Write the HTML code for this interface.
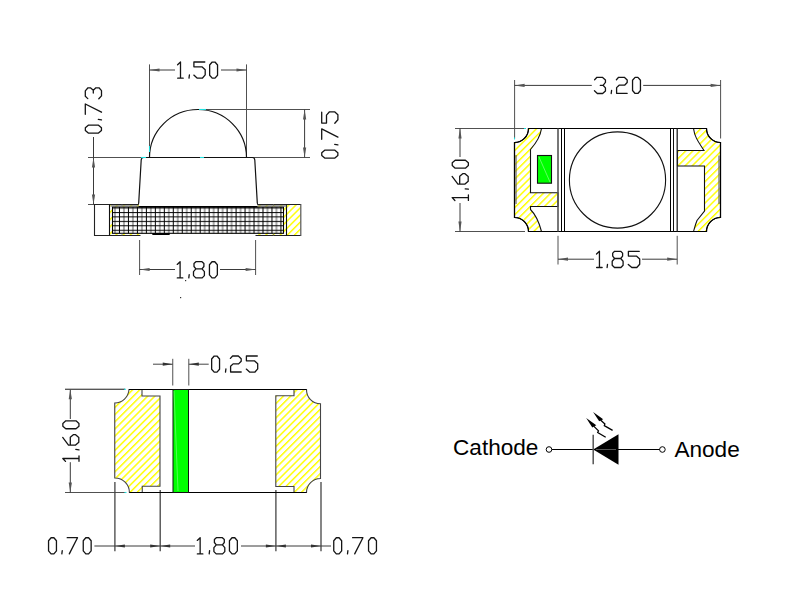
<!DOCTYPE html>
<html><head><meta charset="utf-8"><style>
html,body{margin:0;padding:0;background:#fff;width:800px;height:600px;overflow:hidden}
svg{display:block}
</style></head><body>
<svg width="800" height="600" viewBox="0 0 800 600">
<defs>
<pattern id="hatch" patternUnits="userSpaceOnUse" width="5.05" height="5.05" patternTransform="rotate(-45)">
<rect width="5.05" height="5.05" fill="#fff"/><rect y="0" width="5.05" height="1.45" fill="#ffff00"/></pattern>
<pattern id="hatch2" patternUnits="userSpaceOnUse" width="5.05" height="5.05" patternTransform="rotate(-45)">
<rect width="5.05" height="5.05" fill="#fff"/><rect y="0" width="5.05" height="1.45" fill="#ffff00"/></pattern>
<pattern id="mesh" patternUnits="userSpaceOnUse" x="110.0" y="207.5" width="8.97" height="4.45">
<rect width="8.97" height="4.45" fill="#fff"/><rect width="1.0" height="4.45" fill="#000"/><rect x="4.48" width="1.0" height="4.45" fill="#555"/><rect width="8.97" height="1.0" fill="#000"/></pattern>
</defs>
<rect width="800" height="600" fill="#fff"/>
<line x1="149.5" y1="64.4" x2="149.5" y2="157.5" stroke="#505050" stroke-width="1"/>
<line x1="246.5" y1="64.4" x2="246.5" y2="157.5" stroke="#505050" stroke-width="1"/>
<line x1="149.5" y1="70" x2="175" y2="70" stroke="#3a3a3a" stroke-width="1"/>
<line x1="221" y1="70" x2="246.5" y2="70" stroke="#3a3a3a" stroke-width="1"/>
<polygon points="149.5,70 159.5,68.4 159.5,71.6" fill="#555"/>
<polygon points="246.5,70 236.5,68.4 236.5,71.6" fill="#555"/>
<g fill="none" stroke="#141414" stroke-width="1.3" stroke-linejoin="round" stroke-linecap="round"><path transform="translate(177.1,61.4)" d="M0.5,3.3 L3.4,0.6 V16.8 M0.6,16.8 H6.1"/><path transform="translate(188.4,61.4)" d="M1.0,13.6 L0.6,16.8"/><path transform="translate(193.3,61.4)" d="M11.5,0.6 H0.6 V5.4 H8.6 L11.9,8.4 V13.5 L9,16.8 H4 L0.5,13.7"/><path transform="translate(209,61.4)" d="M3.2,0.65 H6.0 L8.55,3.6 V13.8 L6.0,16.75 H3.2 L0.65,13.8 V3.6 Z"/></g>
<line x1="88" y1="157.5" x2="143" y2="157.5" stroke="#505050" stroke-width="1"/>
<line x1="88" y1="204.5" x2="138" y2="204.5" stroke="#505050" stroke-width="1"/>
<line x1="93.5" y1="137" x2="93.5" y2="204.5" stroke="#3a3a3a" stroke-width="1"/>
<polygon points="93.5,157.5 91.9,167.5 95.1,167.5" fill="#555"/>
<polygon points="93.5,204.5 91.9,194.5 95.1,194.5" fill="#555"/>
<g fill="none" stroke="#141414" stroke-width="1.3" stroke-linejoin="round" stroke-linecap="round" transform="translate(84.7,133.7) rotate(-90)"><path transform="translate(0,0)" d="M3.2,0.65 H6.0 L8.55,3.6 V13.8 L6.0,16.75 H3.2 L0.65,13.8 V3.6 Z"/><path transform="translate(13.3,0)" d="M1.0,13.6 L0.6,16.8"/><path transform="translate(19.1,0)" d="M0.3,0.6 H10.6 L2.4,16.8"/><path transform="translate(34.5,0)" d="M0.55,3.1 L2.9,0.6 H8.3 L11.4,3.3 V5.7 L9,8.6 H6.2 M9,8.6 L11.4,11.2 V14.3 L8.6,16.8 H3.3 L0.4,14.1"/></g>
<line x1="198" y1="109.5" x2="310" y2="109.5" stroke="#505050" stroke-width="1"/>
<line x1="246" y1="157.5" x2="310" y2="157.5" stroke="#505050" stroke-width="1"/>
<line x1="304.6" y1="109.5" x2="304.6" y2="157.5" stroke="#3a3a3a" stroke-width="1"/>
<polygon points="304.6,109.5 303.0,119.5 306.20000000000005,119.5" fill="#555"/>
<polygon points="304.6,157.5 303.0,147.5 306.20000000000005,147.5" fill="#555"/>
<g fill="none" stroke="#141414" stroke-width="1.3" stroke-linejoin="round" stroke-linecap="round" transform="translate(321.1,158.75) rotate(-90)"><path transform="translate(0,0)" d="M3.2,0.65 H6.0 L8.55,3.6 V13.8 L6.0,16.75 H3.2 L0.65,13.8 V3.6 Z"/><path transform="translate(13.3,0)" d="M1.0,13.6 L0.6,16.8"/><path transform="translate(19.2,0)" d="M0.3,0.6 H10.6 L2.4,16.8"/><path transform="translate(35.05,0)" d="M11.5,0.6 H0.6 V5.4 H8.6 L11.9,8.4 V13.5 L9,16.8 H4 L0.5,13.7"/></g>
<line x1="139.6" y1="240" x2="139.6" y2="275" stroke="#505050" stroke-width="1"/>
<line x1="255.6" y1="240" x2="255.6" y2="275" stroke="#505050" stroke-width="1"/>
<line x1="139.6" y1="269.5" x2="175" y2="269.5" stroke="#3a3a3a" stroke-width="1"/>
<line x1="220" y1="269.5" x2="255.6" y2="269.5" stroke="#3a3a3a" stroke-width="1"/>
<polygon points="139.6,269.5 149.6,267.9 149.6,271.1" fill="#555"/>
<polygon points="255.6,269.5 245.6,267.9 245.6,271.1" fill="#555"/>
<g fill="none" stroke="#141414" stroke-width="1.3" stroke-linejoin="round" stroke-linecap="round"><path transform="translate(176.7,261.1)" d="M0.5,3.3 L3.4,0.6 V16.8 M0.6,16.8 H6.1"/><path transform="translate(188.2,261.1)" d="M1.0,13.6 L0.6,16.8"/><path transform="translate(192.9,261.1)" d="M3,0.6 H9.1 L11,2.4 V5.4 L9.1,7.8 H3 L1.1,5.4 V2.4 Z M3,7.8 L0.6,10.5 V14.5 L2.9,16.8 H9.3 L11.5,14.5 V10.5 L9.1,7.8"/><path transform="translate(208.8,261.1)" d="M3.2,0.65 H6.0 L8.55,3.6 V13.8 L6.0,16.75 H3.2 L0.65,13.8 V3.6 Z"/></g>
<path fill="none" stroke="#111" stroke-width="1.2" d="M149.5,157.5 A48.5,48 0 0 1 246.5,157.5"/>
<path fill="none" stroke="#111" stroke-width="1.2" d="M138.5,206.5 L141.2,160 Q141.4,157.5 143.5,157.5 L252.5,157.5 Q254.6,157.5 254.8,160 L257.5,206.5"/>
<rect x="94.5" y="204.5" width="206.3" height="31" fill="#fff"/>
<rect x="110" y="204.5" width="190.5" height="31" fill="url(#hatch)"/>
<rect x="139" y="203.5" width="118" height="3" fill="#fff"/>
<rect x="140.5" y="233.5" width="115" height="3" fill="#fff"/>
<rect x="112.5" y="207" width="171" height="26.3" fill="url(#mesh)"/>
<rect x="112.5" y="207" width="171" height="26.3" fill="none" stroke="#000" stroke-width="1.1"/>
<line x1="94.5" y1="204.5" x2="138.8" y2="204.5" stroke="#222" stroke-width="1.1"/>
<line x1="257.2" y1="204.5" x2="301" y2="204.5" stroke="#222" stroke-width="1.1"/>
<line x1="94.5" y1="235.5" x2="140.5" y2="235.5" stroke="#222" stroke-width="1.1"/>
<line x1="255.5" y1="235.5" x2="301" y2="235.5" stroke="#222" stroke-width="1.1"/>
<line x1="94.5" y1="204" x2="94.5" y2="236" stroke="#222" stroke-width="1.1"/>
<line x1="300.8" y1="204" x2="300.8" y2="236" stroke="#555" stroke-width="1.2"/>
<line x1="109.5" y1="204.5" x2="109.5" y2="235.5" stroke="#111" stroke-width="1.1"/>
<line x1="286.5" y1="204.5" x2="286.5" y2="235.5" stroke="#111" stroke-width="1.1"/>
<line x1="138.5" y1="206.7" x2="257.5" y2="206.7" stroke="#000" stroke-width="1.5"/>
<line x1="122" y1="204.5" x2="122" y2="207" stroke="#777" stroke-width="0.8"/>
<line x1="273.5" y1="204.5" x2="273.5" y2="207" stroke="#777" stroke-width="0.8"/>
<line x1="122" y1="233.5" x2="122" y2="235.5" stroke="#777" stroke-width="0.8"/>
<line x1="273.5" y1="233.5" x2="273.5" y2="235.5" stroke="#777" stroke-width="0.8"/>
<rect x="110.5" y="205" width="28" height="1.8" fill="#777" opacity="0.7"/>
<rect x="257.5" y="205" width="29" height="1.8" fill="#777" opacity="0.7"/>
<line x1="153" y1="234" x2="169" y2="234" stroke="#000" stroke-width="1.8" stroke-linecap="round"/>
<rect x="185" y="280" width="1.2" height="1.2" fill="#333"/>
<rect x="180" y="297" width="1.2" height="1.2" fill="#333"/>
<line x1="514.6" y1="80" x2="514.6" y2="138.5" stroke="#505050" stroke-width="1"/>
<line x1="720.6" y1="80" x2="720.6" y2="138.5" stroke="#505050" stroke-width="1"/>
<line x1="514.6" y1="85.4" x2="591.8" y2="85.4" stroke="#3a3a3a" stroke-width="1"/>
<line x1="643.2" y1="85.4" x2="720.6" y2="85.4" stroke="#3a3a3a" stroke-width="1"/>
<polygon points="514.6,85.4 524.6,83.80000000000001 524.6,87.0" fill="#555"/>
<polygon points="720.6,85.4 710.6,83.80000000000001 710.6,87.0" fill="#555"/>
<g fill="none" stroke="#141414" stroke-width="1.3" stroke-linejoin="round" stroke-linecap="round"><path transform="translate(594.05,76.7)" d="M0.55,3.1 L2.9,0.6 H8.3 L11.4,3.3 V5.7 L9,8.6 H6.2 M9,8.6 L11.4,11.2 V14.3 L8.6,16.8 H3.3 L0.4,14.1"/><path transform="translate(610.6,76.7)" d="M1.0,13.6 L0.6,16.8"/><path transform="translate(616,76.7)" d="M0.4,3.0 L2.6,0.6 H8.3 L11.2,3.3 V5.8 L8.6,8.5 H3.1 L0.6,10.9 V16.6 H11.2"/><path transform="translate(631.9,76.7)" d="M3.2,0.65 H6.0 L8.55,3.6 V13.8 L6.0,16.75 H3.2 L0.65,13.8 V3.6 Z"/></g>
<line x1="455" y1="128.5" x2="525" y2="128.5" stroke="#505050" stroke-width="1"/>
<line x1="455" y1="231.5" x2="525" y2="231.5" stroke="#505050" stroke-width="1"/>
<line x1="460" y1="128.5" x2="460" y2="157" stroke="#3a3a3a" stroke-width="1"/>
<line x1="460" y1="203" x2="460" y2="231.5" stroke="#3a3a3a" stroke-width="1"/>
<polygon points="460,128.5 458.4,138.5 461.6,138.5" fill="#555"/>
<polygon points="460,231.5 458.4,221.5 461.6,221.5" fill="#555"/>
<g fill="none" stroke="#141414" stroke-width="1.3" stroke-linejoin="round" stroke-linecap="round" transform="translate(451.6,201) rotate(-90)"><path transform="translate(0,0)" d="M0.5,3.3 L3.4,0.6 V16.8 M0.6,16.8 H6.1"/><path transform="translate(11.2,0)" d="M1.0,13.6 L0.6,16.8"/><path transform="translate(16.3,0)" d="M8.3,0.5 L0.6,6.3 V13.4 L3.5,16.6 H8.2 L11,13.4 V11.1 L8.5,8.1 H0.6"/><path transform="translate(32.2,0)" d="M3.2,0.65 H6.0 L8.55,3.6 V13.8 L6.0,16.75 H3.2 L0.65,13.8 V3.6 Z"/></g>
<line x1="558" y1="235.8" x2="558" y2="264.5" stroke="#505050" stroke-width="1"/>
<line x1="677.2" y1="235.8" x2="677.2" y2="264.5" stroke="#505050" stroke-width="1"/>
<line x1="558" y1="259.2" x2="594" y2="259.2" stroke="#3a3a3a" stroke-width="1"/>
<line x1="642" y1="259.2" x2="677.2" y2="259.2" stroke="#3a3a3a" stroke-width="1"/>
<polygon points="558,259.2 568,257.59999999999997 568,260.8" fill="#555"/>
<polygon points="677.2,259.2 667.2,257.59999999999997 667.2,260.8" fill="#555"/>
<g fill="none" stroke="#141414" stroke-width="1.3" stroke-linejoin="round" stroke-linecap="round"><path transform="translate(596.05,250.7)" d="M0.5,3.3 L3.4,0.6 V16.8 M0.6,16.8 H6.1"/><path transform="translate(606.5,250.7)" d="M1.0,13.6 L0.6,16.8"/><path transform="translate(611.6,250.7)" d="M3,0.6 H9.1 L11,2.4 V5.4 L9.1,7.8 H3 L1.1,5.4 V2.4 Z M3,7.8 L0.6,10.5 V14.5 L2.9,16.8 H9.3 L11.5,14.5 V10.5 L9.1,7.8"/><path transform="translate(627.8,250.7)" d="M11.5,0.6 H0.6 V5.4 H8.6 L11.9,8.4 V13.5 L9,16.8 H4 L0.5,13.7"/></g>
<path d="M528.5,128.5 L541.5,128.5 C540.5,136 537,142 530.5,149.5 L530.5,192.8 L558,192.8 L558,206.5 L530.5,206.5 L530.5,209.5 C534,213 538,218 541.5,231.5 L528.5,231.5 A14,14 0 0 0 514.5,217.5 L514.5,142.5 A14,14 0 0 0 528.5,128.5 Z" fill="url(#hatch)" stroke="#111" stroke-width="1.1"/>
<path d="M706.5,128.5 L693.5,128.5 C694.5,136 697,140 704,150.5 L677.5,150.5 L677.5,166 L704.5,166 L704.5,211 L697,220.5 C695.5,224 694.5,228 693.5,231.5 L706.5,231.5 A14,14 0 0 1 720.5,217.5 L720.5,142.5 A14,14 0 0 1 706.5,128.5 Z" fill="url(#hatch)" stroke="#111" stroke-width="1.1"/>
<path d="M528.5,128.5 L706.5,128.5 A14,14 0 0 0 720.5,142.5 L720.5,217.5 A14,14 0 0 0 706.5,231.5 L528.5,231.5 A14,14 0 0 0 514.5,217.5 L514.5,142.5 A14,14 0 0 0 528.5,128.5 Z" fill="none" stroke="#000" stroke-width="1.2"/>
<line x1="516" y1="155" x2="516" y2="204" stroke="#666" stroke-width="1.2"/>
<line x1="719" y1="155.5" x2="719" y2="204" stroke="#666" stroke-width="1.2"/>
<rect x="537.5" y="155.5" width="14" height="27.7" fill="#00ff00" stroke="#111" stroke-width="1.1"/>
<line x1="539" y1="157" x2="550" y2="182" stroke="#8f8" stroke-width="0.7"/>
<line x1="558" y1="128.5" x2="558" y2="231.5" stroke="#555" stroke-width="1.6"/>
<line x1="561.5" y1="128.5" x2="561.5" y2="231.5" stroke="#000" stroke-width="1"/>
<line x1="564.5" y1="128.5" x2="564.5" y2="231.5" stroke="#000" stroke-width="1"/>
<line x1="670.5" y1="128.5" x2="670.5" y2="231.5" stroke="#000" stroke-width="1"/>
<line x1="673.5" y1="128.5" x2="673.5" y2="231.5" stroke="#111" stroke-width="1"/>
<line x1="677.2" y1="128.5" x2="677.2" y2="231.5" stroke="#222" stroke-width="1.3"/>
<circle cx="617.5" cy="180" r="48.1" fill="none" stroke="#111" stroke-width="1.1"/>
<line x1="172.75" y1="358.8" x2="172.75" y2="385.5" stroke="#505050" stroke-width="1"/>
<line x1="188.8" y1="358.8" x2="188.8" y2="385.5" stroke="#505050" stroke-width="1"/>
<line x1="153" y1="364.2" x2="172.75" y2="364.2" stroke="#444" stroke-width="1"/>
<line x1="188.8" y1="364.2" x2="208.7" y2="364.2" stroke="#444" stroke-width="1"/>
<polygon points="172.75,364.2 162.75,362.59999999999997 162.75,365.8" fill="#333"/>
<polygon points="188.8,364.2 198.8,362.59999999999997 198.8,365.8" fill="#333"/>
<g fill="none" stroke="#141414" stroke-width="1.3" stroke-linejoin="round" stroke-linecap="round"><path transform="translate(211,355.4)" d="M3.2,0.65 H6.0 L8.55,3.6 V13.8 L6.0,16.75 H3.2 L0.65,13.8 V3.6 Z"/><path transform="translate(224.9,355.4)" d="M1.0,13.6 L0.6,16.8"/><path transform="translate(230,355.4)" d="M0.4,3.0 L2.6,0.6 H8.3 L11.2,3.3 V5.8 L8.6,8.5 H3.1 L0.6,10.9 V16.6 H11.2"/><path transform="translate(245.8,355.4)" d="M11.5,0.6 H0.6 V5.4 H8.6 L11.9,8.4 V13.5 L9,16.8 H4 L0.5,13.7"/></g>
<line x1="65" y1="389.3" x2="125" y2="389.3" stroke="#505050" stroke-width="1"/>
<line x1="65" y1="492.5" x2="125.5" y2="492.5" stroke="#505050" stroke-width="1"/>
<line x1="70.3" y1="389.3" x2="70.3" y2="419" stroke="#3a3a3a" stroke-width="1"/>
<line x1="70.3" y1="462.2" x2="70.3" y2="492.5" stroke="#3a3a3a" stroke-width="1"/>
<polygon points="70.3,389.3 68.7,399.3 71.89999999999999,399.3" fill="#555"/>
<polygon points="70.3,492.5 68.7,482.5 71.89999999999999,482.5" fill="#555"/>
<g fill="none" stroke="#141414" stroke-width="1.3" stroke-linejoin="round" stroke-linecap="round" transform="translate(62.2,461.9) rotate(-90)"><path transform="translate(0,0)" d="M0.5,3.3 L3.4,0.6 V16.8 M0.6,16.8 H6.1"/><path transform="translate(11.5,0)" d="M1.0,13.6 L0.6,16.8"/><path transform="translate(16.2,0)" d="M8.3,0.5 L0.6,6.3 V13.4 L3.5,16.6 H8.2 L11,13.4 V11.1 L8.5,8.1 H0.6"/><path transform="translate(32.5,0)" d="M3.2,0.65 H6.0 L8.55,3.6 V13.8 L6.0,16.75 H3.2 L0.65,13.8 V3.6 Z"/></g>
<line x1="114.9" y1="481.9" x2="114.9" y2="551.2" stroke="#444" stroke-width="1.3"/>
<line x1="160.2" y1="490" x2="160.2" y2="551.2" stroke="#444" stroke-width="1.3"/>
<line x1="275.9" y1="490" x2="275.9" y2="551.2" stroke="#444" stroke-width="1.3"/>
<line x1="321" y1="482" x2="321" y2="551.2" stroke="#444" stroke-width="1.3"/>
<line x1="94.4" y1="546" x2="195" y2="546" stroke="#3a3a3a" stroke-width="1"/>
<line x1="241" y1="546" x2="331" y2="546" stroke="#3a3a3a" stroke-width="1"/>
<polygon points="114.9,546 124.9,544.4 124.9,547.6" fill="#333"/>
<polygon points="160.2,546 150.2,544.4 150.2,547.6" fill="#333"/>
<polygon points="160.2,546 170.2,544.4 170.2,547.6" fill="#333"/>
<polygon points="275.9,546 265.9,544.4 265.9,547.6" fill="#333"/>
<polygon points="275.9,546 285.9,544.4 285.9,547.6" fill="#333"/>
<polygon points="321,546 311,544.4 311,547.6" fill="#333"/>
<g fill="none" stroke="#141414" stroke-width="1.3" stroke-linejoin="round" stroke-linecap="round"><path transform="translate(47.9,537.1)" d="M3.2,0.65 H6.0 L8.55,3.6 V13.8 L6.0,16.75 H3.2 L0.65,13.8 V3.6 Z"/><path transform="translate(61.25,537.1)" d="M1.0,13.6 L0.6,16.8"/><path transform="translate(66.9,537.1)" d="M0.3,0.6 H10.6 L2.4,16.8"/><path transform="translate(82.6,537.1)" d="M3.2,0.65 H6.0 L8.55,3.6 V13.8 L6.0,16.75 H3.2 L0.65,13.8 V3.6 Z"/></g>
<g fill="none" stroke="#141414" stroke-width="1.3" stroke-linejoin="round" stroke-linecap="round"><path transform="translate(196.75,537.1)" d="M0.5,3.3 L3.4,0.6 V16.8 M0.6,16.8 H6.1"/><path transform="translate(208.6,537.1)" d="M1.0,13.6 L0.6,16.8"/><path transform="translate(213.3,537.1)" d="M3,0.6 H9.1 L11,2.4 V5.4 L9.1,7.8 H3 L1.1,5.4 V2.4 Z M3,7.8 L0.6,10.5 V14.5 L2.9,16.8 H9.3 L11.5,14.5 V10.5 L9.1,7.8"/><path transform="translate(228.8,537.1)" d="M3.2,0.65 H6.0 L8.55,3.6 V13.8 L6.0,16.75 H3.2 L0.65,13.8 V3.6 Z"/></g>
<g fill="none" stroke="#141414" stroke-width="1.3" stroke-linejoin="round" stroke-linecap="round"><path transform="translate(333.1,537.1)" d="M3.2,0.65 H6.0 L8.55,3.6 V13.8 L6.0,16.75 H3.2 L0.65,13.8 V3.6 Z"/><path transform="translate(346.9,537.1)" d="M1.0,13.6 L0.6,16.8"/><path transform="translate(352.3,537.1)" d="M0.3,0.6 H10.6 L2.4,16.8"/><path transform="translate(367.9,537.1)" d="M3.2,0.65 H6.0 L8.55,3.6 V13.8 L6.0,16.75 H3.2 L0.65,13.8 V3.6 Z"/></g>
<path d="M129,389.5 L142,389.5 L142,396 L160,396 L160,486.25 L142.25,486.25 L142.25,492.5 L129.4,492.5 A14.5,14.5 0 0 0 114.75,478 L114.75,403 A14.5,14.5 0 0 0 129,389.5 Z" fill="url(#hatch2)" stroke="#444" stroke-width="1.1"/>
<path d="M306.5,389.5 L294,389.5 L294,395.8 L275.8,395.8 L275.8,486.5 L294,486.5 L294,492.5 L306.5,492.5 A14,14 0 0 1 320.5,478.5 L320.5,403.8 A14,14 0 0 1 306.5,389.5 Z" fill="url(#hatch2)" stroke="#444" stroke-width="1.1"/>
<line x1="129" y1="389.5" x2="306.5" y2="389.5" stroke="#000" stroke-width="1.2"/>
<line x1="129.4" y1="492.5" x2="306.5" y2="492.5" stroke="#000" stroke-width="1.2"/>
<line x1="65" y1="389.3" x2="125" y2="389.3" stroke="#505050" stroke-width="1"/>
<rect x="173" y="389.5" width="15.5" height="103" fill="#00ff00" stroke="#111" stroke-width="1"/>
<line x1="174" y1="391" x2="178" y2="491" stroke="#8f8" stroke-width="0.6"/>
<text x="453" y="455" font-family="Liberation Sans, sans-serif" font-size="22.6" fill="#000">Cathode</text>
<text x="674.4" y="457" font-family="Liberation Sans, sans-serif" font-size="22.6" fill="#000">Anode</text>
<circle cx="549" cy="449.5" r="2.8" fill="#fff" stroke="#000" stroke-width="1"/>
<circle cx="662.4" cy="449.5" r="2.8" fill="#fff" stroke="#000" stroke-width="1"/>
<line x1="551.8" y1="449.5" x2="659.6" y2="449.5" stroke="#000" stroke-width="1.1"/>
<polygon points="593.2,449.5 618.5,434.3 618.5,464.7" fill="#000"/>
<line x1="596" y1="449.5" x2="616" y2="449.5" stroke="#555" stroke-width="1"/>
<line x1="593.2" y1="434.8" x2="593.2" y2="464.2" stroke="#555" stroke-width="1.5"/>
<g stroke="#000" stroke-width="1.25" fill="none"><path d="M593.7,426.1 L598.5,430.9 L597.7,432.5 L605.7,437.3"/><path d="M600.5,420 L604.9,424 L604.3,425.6 L612.6,430.4"/></g>
<polygon points="586.2,418.1 596.3,425.3 592.3,427.4" fill="#000"/>
<polygon points="593.1,412 603.2,419.2 599.2,421.3" fill="#000"/>
<line x1="149.5" y1="146" x2="149.5" y2="152" stroke="#20e0e0" stroke-width="1.1"/>
<line x1="141" y1="157.5" x2="146" y2="157.5" stroke="#20e0e0" stroke-width="1.1"/>
<line x1="199" y1="109.5" x2="206" y2="109.5" stroke="#20e0e0" stroke-width="1.1"/>
<line x1="200" y1="157.5" x2="204" y2="157.5" stroke="#20e0e0" stroke-width="1.1"/>
<line x1="514.5" y1="137.5" x2="514.5" y2="139.5" stroke="#20e0e0" stroke-width="1.1"/>
<line x1="524" y1="128.5" x2="526" y2="128.5" stroke="#20e0e0" stroke-width="1.1"/>
<line x1="124" y1="389.3" x2="126" y2="389.3" stroke="#20e0e0" stroke-width="1.1"/>
<line x1="124.5" y1="492.5" x2="126.5" y2="492.5" stroke="#20e0e0" stroke-width="1.1"/>
</svg>
</body></html>
